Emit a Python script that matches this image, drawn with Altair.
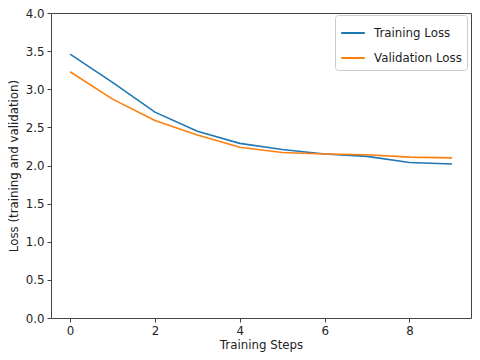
import altair as alt
import pandas as pd

steps = list(range(10))
training_loss = [3.46, 3.09, 2.70, 2.45, 2.29, 2.21, 2.15, 2.12, 2.04, 2.02]
validation_loss = [3.23, 2.87, 2.59, 2.40, 2.24, 2.17, 2.15, 2.14, 2.11, 2.10]
series_names = ["Training Loss", "Validation Loss"]
colors = ["#1f77b4", "#ff7f0e"]
x_ticks = [0, 2, 4, 6, 8]
y_ticks = [0.0, 0.5, 1.0, 1.5, 2.0, 2.5, 3.0, 3.5, 4.0]

rows = []
for s, t, v in zip(steps, training_loss, validation_loss):
    rows.append({"step": s, "loss": t, "series": series_names[0]})
    rows.append({"step": s, "loss": v, "series": series_names[1]})
df = pd.DataFrame(rows)

font = "DejaVu Sans"
fs = 11.8

chart = alt.Chart(df).mark_line(strokeWidth=1.6).encode(
    x=alt.X("step:Q",
            scale=alt.Scale(domain=[-0.45, 9.45], nice=False, zero=False),
            axis=alt.Axis(values=x_ticks, title="Training Steps", format="d")),
    y=alt.Y("loss:Q",
            scale=alt.Scale(domain=[0, 4], nice=False),
            axis=alt.Axis(values=y_ticks, title="Loss (training and validation)", format=".1f")),
    color=alt.Color("series:N",
                    scale=alt.Scale(domain=series_names, range=colors),
                    legend=alt.Legend(title=None, orient="none", legendX=284, legendY=2,
                                      symbolType="stroke", symbolStrokeWidth=2, symbolSize=560,
                                      labelFont=font, labelFontSize=fs, labelColor="#222",
                                      fillColor="white", strokeColor="#cccccc", cornerRadius=3,
                                      padding=5, rowPadding=5, labelOffset=8)),
).properties(
    width=420,
    height=305,
    autosize=alt.AutoSizeParams(type="none"),
    padding={"left": 43, "top": 5, "right": 1, "bottom": 34},
).configure_view(
    stroke="#444", strokeWidth=1
).configure_axis(
    grid=False, domain=False,
    tickColor="#444", tickSize=4, tickWidth=1,
    labelFont=font, labelFontSize=fs, labelColor="#222", labelPadding=3,
    titleFont=font, titleFontSize=fs, titleColor="#222", titleFontWeight="normal",
).configure_axisX(titlePadding=3).configure_axisY(titlePadding=6)

chart.save("out.html", embed_options={"renderer": "svg", "actions": False})
